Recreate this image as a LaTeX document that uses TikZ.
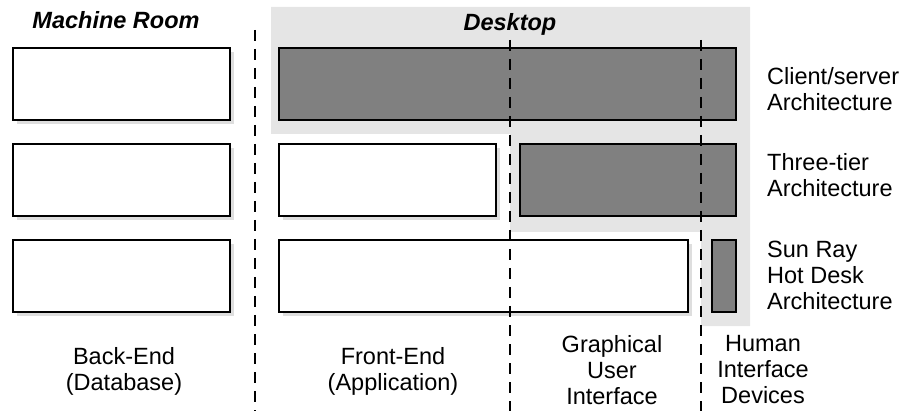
\documentclass[tikz,border=0pt]{standalone}
\usepackage{fontspec}
\setmainfont{Liberation Sans}
\usepackage{tikz}
\usetikzlibrary{positioning}
\usetikzlibrary{calc}

\definecolor{DeskGray}{gray}{0.90}
\definecolor{ShadeGray}{gray}{0.87}
\definecolor{TierGray}{gray}{0.50}

\tikzset{
  tierbox/.style={draw=black,line width=1.2pt,fill=TierGray},
  plainbox/.style={draw=black,line width=1.2pt,fill=white},
  boxshade/.style={fill=ShadeGray},
  divider/.style={line width=1.6pt,dash pattern=on 11pt off 8pt},
  label/.style={inner sep=0pt,font=\fontsize{23.5}{26}\selectfont},
  zone/.style={label,font=\fontsize{23.5}{26}\selectfont\bfseries\itshape}
}

\begin{document}
\begin{tikzpicture}[line cap=butt,line join=miter,x=1pt,y=-1pt]
\useasboundingbox (0,0) rectangle (912,411);

% desktop area
\fill[DeskGray] (271,7) -- (750,7) -- (750,326) -- (701,326) -- (701,232)
  -- (510,232) -- (510,134) -- (271,134) -- cycle;

% machine room column
\fill[boxshade] (17,52) rectangle (234,124);
\draw (13,48) [plainbox]rectangle (230,120);
\fill[boxshade] (17,148) rectangle (234,220);
\draw (13,144) [plainbox]rectangle (230,216);
\fill[boxshade] (17,244) rectangle (234,316);
\draw (13,240) [plainbox]rectangle (230,312);

% client/server
\draw (279,48) [tierbox]rectangle (736,120);

% three-tier
\fill[boxshade] (283,148) rectangle (500,220);
\draw (279,144) [plainbox]rectangle (496,216);
\draw (520,144) [tierbox]rectangle (736,216);

% sun ray
\fill[boxshade] (283,244) rectangle (692,316);
\draw (279,240) [plainbox]rectangle (688,312);
\draw (712,240) [tierbox]rectangle (736,312);

% dividers
\draw[divider] (255,30) -- (255,411);
\draw[divider] (510,40) -- (510,411);
\draw[divider] (701,40) -- (701,411);

% headings
\node[zone] (mroom) at (116,20) {Machine Room};
\node[zone] (desk) at (510,24) {Desktop};

% architectures
\node[label,anchor=west,align=left] (cs) at (767,89) {Client/server\\Architecture};
\node[label,anchor=west,align=left] (tt) at (767,175) {Three-tier\\Architecture};
\node[label,anchor=west,align=left] (sr) at (767,275) {Sun Ray\\Hot Desk\\Architecture};

% layers
\node[label,align=center] (be) at (124,371) {Back-End\\(Database)};
\node[label,align=center] (fe) at (393,371) {Front-End\\(Application)};
\node[label,align=center] (gui) at (612,370) {Graphical\\User\\Interface};
\node[label,align=center] (hid) at (763,370) {Human\\Interface\\Devices};

\end{tikzpicture}
\end{document}
